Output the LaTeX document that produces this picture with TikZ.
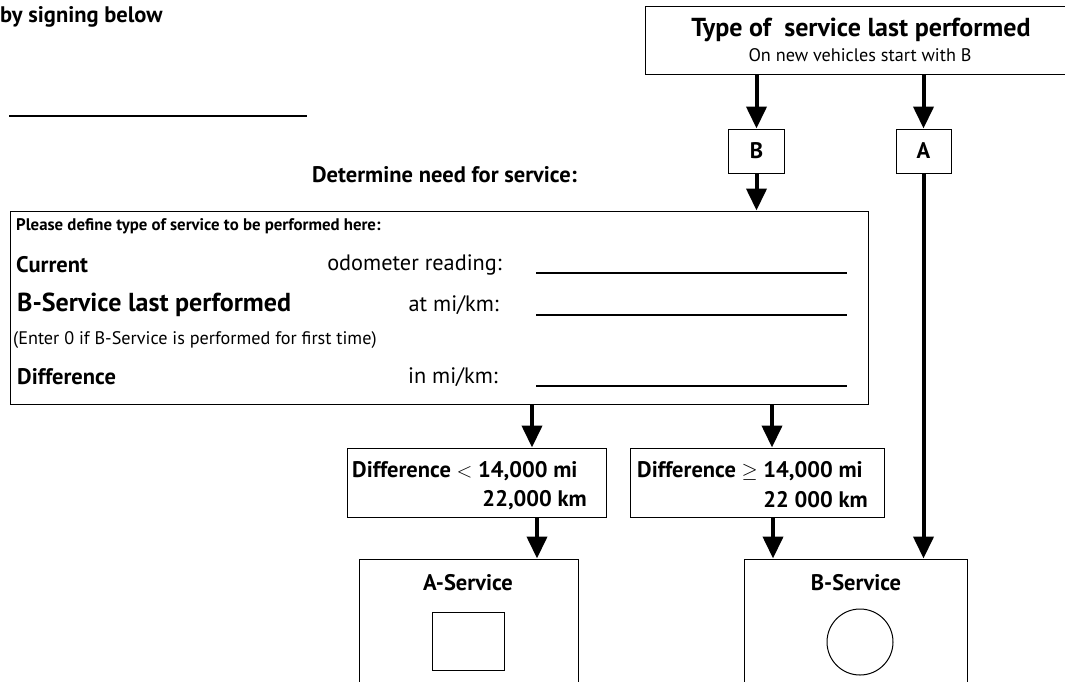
\documentclass[tikz,border=0pt]{standalone}
\usepackage{fontspec}
\setmainfont{PT Sans}
\usetikzlibrary{positioning,arrows.meta}
\tikzset
{
  formbox/.style  = {rectangle, draw=black, line width=1pt, inner sep=0pt},
  tagbox/.style   = {formbox, minimum width=56pt, minimum height=44pt, font=\fontsize{22.5}{26}\selectfont\bfseries},
  flow/.style     = {-{Triangle[width=20pt,length=22pt]}, line width=4pt},
  fillin/.style   = {line width=1.3pt},
  txt/.style      = {inner sep=0pt},
  bigbold/.style  = {txt, font=\fontsize{26}{30}\selectfont\bfseries},
  midbold/.style  = {txt, font=\fontsize{22.5}{26}\selectfont\bfseries},
  midreg/.style   = {txt, font=\fontsize{22.3}{26}\selectfont},
  smallbold/.style= {txt, font=\fontsize{16.8}{20}\selectfont\bfseries},
  smallreg/.style = {txt, font=\fontsize{18.2}{21}\selectfont}
}
\begin{document}
\begin{tikzpicture}[x=1pt,y=-1pt]
  \useasboundingbox (0,0) rectangle (1065,681);
  % signature
  \node [midbold, anchor=west] (signnote) at (0,17) {by signing below};
  \draw [fillin] (9,116) -- (307,116);
  % last service
  \node [formbox, minimum width=435pt, minimum height=68pt] (lastsvc) at (862.5,40) {};
  \node [bigbold] (lasttitle) at (861,30) {Type of\ \ service last performed};
  \node [smallreg] (lastnote) at (860,55) {On new vehicles start with B};
  \node [tagbox] (tagB) at (756.5,151) {B};
  \node [tagbox, minimum width=55pt] (tagA) at (923.5,151) {A};
  \draw [flow] (lastsvc.south -| tagB) -- (tagB.north);
  \draw [flow] (lastsvc.south -| tagA) -- (tagA.north);
  % define service
  \node [midbold] (need) at (444.5,175) {Determine need for service:};
  \node [formbox, minimum width=858pt, minimum height=193pt] (define) at (439,307.5) {};
  \draw [flow] (tagB.south) -- (tagB.south |- define.north);
  \node [smallbold, anchor=west] (please) at (16,226) {Please define type of service to be performed here:};
  \node [midbold, anchor=west] (current) at (16,265) {Current};
  \node [midreg, anchor=east] (odo) at (502,265) {odometer reading:};
  \node [bigbold, anchor=west] (blast) at (17,305) {B-Service last performed};
  \node [midreg, anchor=east] (atkm) at (499,305) {at mi/km:};
  \node [smallreg, anchor=west] (enter) at (13,340) {(Enter 0 if B-Service is performed for first time)};
  \node [midbold, anchor=west] (diff) at (17,377) {Difference};
  \node [midreg, anchor=east] (inkm) at (498,377) {in mi/km:};
  \foreach \y in {273,315,386}
    \draw [fillin] (536,\y) -- (847,\y);
  % decision
  \node [formbox, minimum width=259pt, minimum height=69pt] (lessbox) at (476.5,482.5) {};
  \node [midbold, anchor=west] (lesstop) at (352,471) {Difference $<$ 14,000 mi};
  \node [midbold, anchor=east] (lessbot) at (587,500) {22,000 km};
  \node [formbox, minimum width=254pt, minimum height=69pt] (morebox) at (757,482.5) {};
  \node [midbold, anchor=west] (moretop) at (637,471) {Difference $\geq$ 14,000 mi};
  \node [midbold, anchor=east] (morebot) at (868,500) {22 000 km};
  \coordinate (splitA) at (532,0);
  \coordinate (splitB) at (772,0);
  \draw [flow] (splitA |- define.south) -- (splitA |- lessbox.north);
  \draw [flow] (splitB |- define.south) -- (splitB |- morebox.north);
  % services
  \node [formbox, minimum width=219pt, minimum height=161pt] (asvc) at (468.5,639.5) {};
  \node [midbold] (asvctitle) at (468,583) {A-Service};
  \node [formbox, minimum width=72pt, minimum height=58pt] (amark) at (468,641) {};
  \node [formbox, minimum width=223pt, minimum height=161pt] (bsvc) at (855.5,639.5) {};
  \node [midbold] (bsvctitle) at (856,583) {B-Service};
  \node [formbox, circle, minimum size=66pt] (bmark) at (860,642) {};
  \coordinate (dropA) at (537,0);
  \coordinate (dropB) at (773,0);
  \draw [flow] (dropA |- lessbox.south) -- (dropA |- asvc.north);
  \draw [flow] (dropB |- morebox.south) -- (dropB |- bsvc.north);
  \draw [flow] (tagA.south) -- (tagA.south |- bsvc.north);
\end{tikzpicture}
\end{document}
